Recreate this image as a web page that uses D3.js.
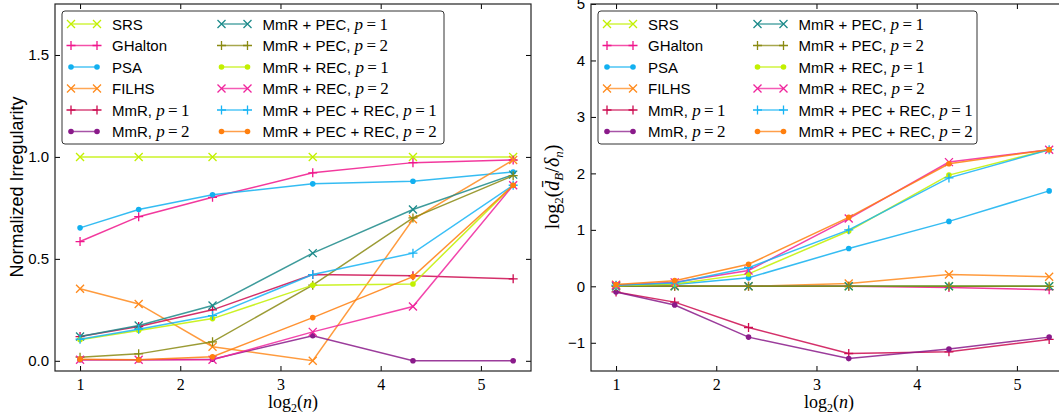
<!DOCTYPE html>
<html>
<head>
<meta charset="utf-8">
<script src="https://cdn.jsdelivr.net/npm/d3@7"></script>
<style>
  html, body { margin: 0; padding: 0; background: #fff; }
  svg { display: block; }
</style>
</head>
<body>
<svg id="chart" width="1059" height="416"></svg>
<script>
// x positions: log2 of sample sizes n = 2, 3, 5, 10, 20, 40
const logN = [1, 1.585, 2.322, 3.322, 4.322, 5.322];
const xTicks = [1, 2, 3, 4, 5];
const leftYTicks = [0, 0.5, 1.0, 1.5];
const rightYTicks = [-1, 0, 1, 2, 3, 4, 5];

// method labels, drawn in legend order
const methodNames = [
  "SRS", "GHalton", "PSA", "FILHS",
  "MmR, |p=1", "MmR, |p=2",
  "MmR + PEC, |p=1", "MmR + PEC, |p=2",
  "MmR + REC, |p=1", "MmR + REC, |p=2",
  "MmR + PEC + REC, |p=1", "MmR + PEC + REC, |p=2"
];
const methodColors = [
  "#c2f000", "#f0168c", "#12b0f0", "#ff8a1c",
  "#cc0c50", "#8a1a8a",
  "#1c8a8a", "#8a8a12",
  "#c2f000", "#f0249c",
  "#18b4f4", "#ff7f0e"
];
const methodMarkers = [
  "x", "+", "o", "x",
  "+", "o",
  "x", "+",
  "o", "x",
  "+", "o"
];

// normalized irregularity (left panel)
const irrSRS      = [1.0, 1.0, 1.0, 1.0, 1.0, 1.0];
const irrGHalton  = [0.585, 0.707, 0.802, 0.922, 0.972, 0.985];
const irrPSA      = [0.652, 0.742, 0.814, 0.868, 0.881, 0.926];
const irrFILHS    = [0.353, 0.279, 0.069, 0.0, 0.694, 0.985];
const irrMmR1     = [0.119, 0.168, 0.250, 0.423, 0.417, 0.402];
const irrMmR2     = [0.005, 0.005, 0.008, 0.123, 0.0, 0.0];
const irrPEC1     = [0.119, 0.173, 0.271, 0.528, 0.742, 0.913];
const irrPEC2     = [0.018, 0.034, 0.093, 0.371, 0.701, 0.908];
const irrREC1     = [0.103, 0.149, 0.207, 0.371, 0.377, 0.861];
const irrREC2     = [0.005, 0.005, 0.005, 0.142, 0.266, 0.861];
const irrPECREC1  = [0.106, 0.155, 0.222, 0.423, 0.528, 0.861];
const irrPECREC2  = [0.008, 0.005, 0.020, 0.212, 0.413, 0.861];

// log2 of mean distance ratio (right panel)
const ratioSRS     = [0.0, 0.0, 0.0, 0.0, 0.0, 0.0];
const ratioGHalton = [0.01, 0.0, 0.0, 0.0, -0.02, -0.06];
const ratioPSA     = [0.02, 0.03, 0.15, 0.67, 1.15, 1.69];
const ratioFILHS   = [0.03, 0.01, 0.0, 0.05, 0.21, 0.17];
const ratioMmR1    = [-0.10, -0.28, -0.73, -1.19, -1.16, -0.94];
const ratioMmR2    = [-0.10, -0.33, -0.90, -1.28, -1.11, -0.90];
const ratioPEC1    = [0.0, 0.0, 0.0, 0.0, 0.0, 0.0];
const ratioPEC2    = [0.0, 0.0, 0.0, 0.0, 0.0, 0.0];
const ratioREC1    = [0.01, 0.04, 0.22, 0.98, 1.97, 2.42];
const ratioREC2    = [0.02, 0.07, 0.28, 1.20, 2.20, 2.42];
const ratioPECREC1 = [0.02, 0.06, 0.33, 1.00, 1.92, 2.42];
const ratioPECREC2 = [0.03, 0.10, 0.39, 1.22, 2.17, 2.42];

const leftSeries = [irrSRS, irrGHalton, irrPSA, irrFILHS, irrMmR1, irrMmR2,
  irrPEC1, irrPEC2, irrREC1, irrREC2, irrPECREC1, irrPECREC2];
const rightSeries = [ratioSRS, ratioGHalton, ratioPSA, ratioFILHS, ratioMmR1, ratioMmR2,
  ratioPEC1, ratioPEC2, ratioREC1, ratioREC2, ratioPECREC1, ratioPECREC2];

const svg = d3.select("#chart");
const SANS = "'Liberation Sans', Arial, sans-serif";
const SERIF = "'Liberation Serif', 'DejaVu Serif', serif";

function drawMarker(g, type, cx, cy, color) {
  const s = 4;
  if (type === "x") {
    g.append("path")
      .attr("d", `M${cx - s},${cy - s}L${cx + s},${cy + s}M${cx - s},${cy + s}L${cx + s},${cy - s}`)
      .attr("stroke", color).attr("stroke-width", 1.3).attr("fill", "none");
  } else if (type === "+") {
    g.append("path")
      .attr("d", `M${cx - s - 0.5},${cy}L${cx + s + 0.5},${cy}M${cx},${cy - s - 0.5}L${cx},${cy + s + 0.5}`)
      .attr("stroke", color).attr("stroke-width", 1.3).attr("fill", "none");
  } else {
    g.append("circle").attr("cx", cx).attr("cy", cy).attr("r", 2.8).attr("fill", color);
  }
}

// label text with an optional math part after "|"
function labelText(sel, name) {
  const parts = name.split("|");
  sel.append("tspan").attr("font-family", SANS).text(parts[0].replace(/ $/, "\u00a0"));
  if (parts.length > 1) {
    const m = parts[1].split("=");
    sel.append("tspan").attr("font-family", SERIF).attr("font-style", "italic").attr("font-size", 17).text(m[0]);
    sel.append("tspan").attr("font-family", SERIF).attr("font-size", 17).text("\u2009=\u2009" + m[1]);
  }
}

function panel(opts) {
  const { x0, x1, y0, y1, yDomain, yTicks, yFormat, series } = opts;
  const x = d3.scaleLinear().domain([0.75, 5.5]).range([x0, x1]);
  const y = d3.scaleLinear().domain(yDomain).range([y1, y0]);
  const g = svg.append("g");

  const clipId = "clip" + x0;
  svg.append("clipPath").attr("id", clipId)
    .append("rect").attr("x", x0).attr("y", y0).attr("width", x1 - x0).attr("height", y1 - y0);

  const plot = g.append("g").attr("clip-path", `url(#${clipId})`);
  const line = d3.line().x((d, i) => x(logN[i])).y(d => y(d));
  series.forEach((vals, k) => {
    plot.append("path").datum(vals)
      .attr("d", line).attr("fill", "none")
      .attr("stroke", methodColors[k]).attr("stroke-width", 1.5).attr("stroke-opacity", 0.85);
    vals.forEach((v, i) => drawMarker(plot, methodMarkers[k], x(logN[i]), y(v), methodColors[k]));
  });

  // axes with inward ticks on all four sides
  const tl = 5;
  const bottom = g.append("g").attr("transform", `translate(0,${y1})`)
    .call(d3.axisBottom(x).tickValues(xTicks).tickSize(-tl).tickPadding(8).tickFormat(d3.format("d")));
  const top = g.append("g").attr("transform", `translate(0,${y0})`)
    .call(d3.axisTop(x).tickValues(xTicks).tickSize(-tl).tickFormat(""));
  const left = g.append("g").attr("transform", `translate(${x0},0)`)
    .call(d3.axisLeft(y).tickValues(yTicks).tickSize(-tl).tickPadding(6).tickFormat(yFormat));
  const right = g.append("g").attr("transform", `translate(${x1},0)`)
    .call(d3.axisRight(y).tickValues(yTicks).tickSize(-tl).tickFormat(""));
  [bottom, top, left, right].forEach(a => {
    a.select(".domain").remove();
    a.selectAll(".tick line").attr("stroke", "#000").attr("stroke-width", 1);
  });
  bottom.selectAll("text").attr("font-family", SERIF).attr("font-size", 16).attr("fill", "#000");
  left.selectAll("text").attr("font-family", SANS).attr("font-size", 15).attr("fill", "#000");

  g.append("rect").attr("x", x0).attr("y", y0).attr("width", x1 - x0).attr("height", y1 - y0)
    .attr("fill", "none").attr("stroke", "#222").attr("stroke-width", 1.2);

  // x axis label: log2(n)
  const xl = g.append("text").attr("x", (x0 + x1) / 2).attr("y", 408)
    .attr("text-anchor", "middle").attr("font-family", SERIF).attr("font-size", 18).attr("fill", "#000");
  xl.append("tspan").text("log");
  xl.append("tspan").attr("font-size", 12).attr("dy", 4).text("2");
  xl.append("tspan").attr("dy", -4).text("(");
  xl.append("tspan").attr("font-style", "italic").text("n");
  xl.append("tspan").text(")");

  // legend
  const lg = g.append("g");
  lg.append("rect").attr("x", opts.legX).attr("y", 11).attr("width", opts.legW).attr("height", 133)
    .attr("rx", 3).attr("fill", "#fff").attr("fill-opacity", 0.9).attr("stroke", "#333").attr("stroke-width", 1);
  methodNames.forEach((name, k) => {
    const col = Math.floor(k / 6), row = k % 6;
    const cy = 24 + row * 21.5;
    const lx = opts.legX + 9 + col * opts.colGap;
    lg.append("line").attr("x1", lx).attr("x2", lx + 26).attr("y1", cy).attr("y2", cy)
      .attr("stroke", methodColors[k]).attr("stroke-width", 1.5).attr("stroke-opacity", 0.75);
    drawMarker(lg, methodMarkers[k], lx, cy, methodColors[k]);
    drawMarker(lg, methodMarkers[k], lx + 26, cy, methodColors[k]);
    const t = lg.append("text").attr("x", lx + 41).attr("y", cy + 5.5)
      .attr("font-size", 15).attr("fill", "#000");
    labelText(t, name);
  });
  return g;
}

panel({
  x0: 55, x1: 531, y0: 4, y1: 371,
  yDomain: [-0.05, 1.75], yTicks: leftYTicks, yFormat: d3.format(".1f"),
  series: leftSeries, legX: 62, legW: 382, colGap: 150.5
});

panel({
  x0: 591, x1: 1067, y0: 4, y1: 371,
  yDomain: [-1.5, 5], yTicks: rightYTicks, yFormat: d => d < 0 ? "\u2212" + Math.abs(d) : d,
  series: rightSeries, legX: 598, legW: 379, colGap: 150.5
});

// y axis titles
svg.append("text").attr("transform", "translate(23,187) rotate(-90)")
  .attr("text-anchor", "middle").attr("font-family", SANS).attr("font-size", 18).attr("fill", "#000")
  .text("Normalized Irregularity");

const yr = svg.append("text").attr("transform", "translate(559,187) rotate(-90)")
  .attr("text-anchor", "middle").attr("font-family", SERIF).attr("font-size", 20).attr("fill", "#000");
yr.append("tspan").text("log");
yr.append("tspan").attr("font-size", 13).attr("dy", 4).text("2");
yr.append("tspan").attr("dy", -4).text("(");
yr.append("tspan").attr("font-style", "italic").text("d\u0304");
yr.append("tspan").attr("font-style", "italic").attr("font-size", 13).attr("dy", 4).text("B");
yr.append("tspan").attr("dy", -4).text("/");
yr.append("tspan").attr("font-style", "italic").text("\u03b4");
yr.append("tspan").attr("font-style", "italic").attr("font-size", 13).attr("dy", 4).text("n");
yr.append("tspan").attr("dy", -4).text(")");
</script>
</body>
</html>
